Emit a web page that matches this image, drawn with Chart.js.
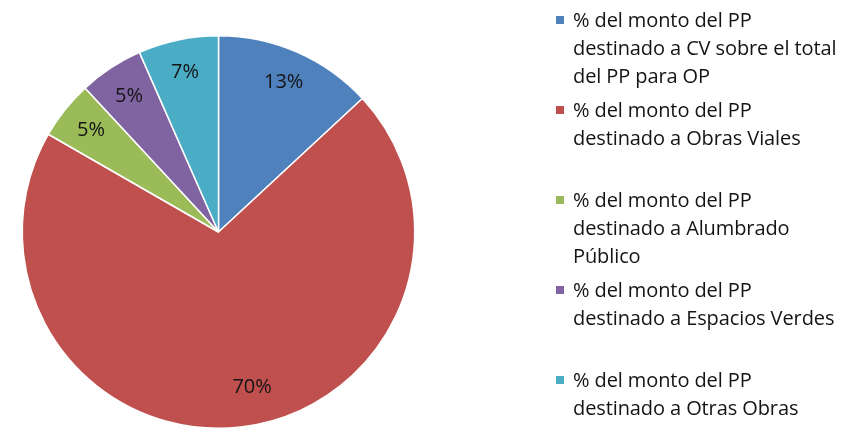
<!DOCTYPE html>
<html>
<head>
<meta charset="utf-8">
<script src="https://cdn.jsdelivr.net/npm/chart.js@4.4.1/dist/chart.umd.min.js"></script>
<style>
  body { margin: 0; background: #fff; }
  #wrap { position: relative; width: 851px; height: 432px; }
  #chart { position: absolute; left: 0; top: 0; }
  #legend { position: absolute; left: 553px; top: 0; font-family: "Open Sans", sans-serif; font-size: 20px; color: #141414; }
  .item { position: absolute; left: 0; white-space: nowrap; line-height: 28px; }
  .box { position: absolute; left: 3px; top: 10px; width: 8px; height: 8px; }
  .txt { position: absolute; left: 20px; top: 0; letter-spacing: -0.1px; }
</style>
</head>
<body>
<div id="wrap">
  <canvas id="chart" width="851" height="432"></canvas>
  <div id="legend"></div>
</div>
<script>
// Distribución del monto del PP
const labels = [
    ['% del monto del PP', 'destinado a CV sobre el total', 'del PP para OP'],
    ['% del monto del PP', 'destinado a Obras Viales'],
    ['% del monto del PP', 'destinado a Alumbrado', 'Público'],
    ['% del monto del PP', 'destinado a Espacios Verdes'],
    ['% del monto del PP', 'destinado a Otras Obras']
];
const values = [13.1, 70.2, 4.8, 5.3, 6.6];
const colors = ['#4F81BD', '#C0504D', '#9BBB59', '#8064A2', '#4BACC6'];

// etiquetas de porcentaje dentro de cada porción
const pctLabels = {
    id: 'pctLabels',
    afterDatasetsDraw(chart) {
        const ctx = chart.ctx;
        const meta = chart.getDatasetMeta(0);
        const total = values.reduce((a, b) => a + b, 0);
        ctx.save();
        ctx.font = '20px "Open Sans", sans-serif';
        ctx.fillStyle = '#141414';
        ctx.textAlign = 'center';
        ctx.textBaseline = 'middle';
        meta.data.forEach((arc, i) => {
            const p = arc.getProps(['x', 'y', 'startAngle', 'endAngle', 'outerRadius'], true);
            let mid = (p.startAngle + p.endAngle) / 2;
            let r = p.outerRadius * 0.83;
            if (values[i] > 50) { mid -= 0.1; r = p.outerRadius * 0.81; }
            const txt = Math.round(values[i] / total * 100) + '%';
            ctx.fillText(txt, p.x + Math.cos(mid) * r, p.y + Math.sin(mid) * r);
        });
        ctx.restore();
    }
};

const ctx = document.getElementById('chart').getContext('2d');
const pieChart = new Chart(ctx, {
    type: 'pie',
    data: {
        labels: labels,
        datasets: [{
            data: values,
            backgroundColor: colors,
            borderColor: '#ffffff',
            borderWidth: 1.5
        }]
    },
    options: {
        responsive: false,
        animation: false,
        layout: {
            padding: { left: 21, right: 435, top: 35, bottom: 3 }
        },
        plugins: {
            legend: { display: false },
            tooltip: { enabled: false }
        }
    },
    plugins: [pctLabels]
});

// leyenda a la derecha
const legend = document.getElementById('legend');
labels.forEach((lines, i) => {
    const item = document.createElement('div');
    item.className = 'item';
    item.style.top = (6 + i * 90) + 'px';
    const box = document.createElement('div');
    box.className = 'box';
    box.style.background = colors[i];
    const txt = document.createElement('div');
    txt.className = 'txt';
    txt.innerHTML = lines.join('<br>');
    item.appendChild(box);
    item.appendChild(txt);
    legend.appendChild(item);
});
</script>
</body>
</html>
